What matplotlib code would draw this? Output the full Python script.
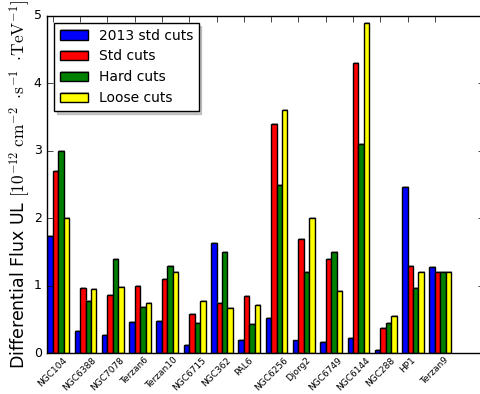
import matplotlib
matplotlib.use("Agg")
import matplotlib.pyplot as plt
import matplotlib.patheffects as pe
import numpy as np

plt.style.use('classic')

categories = ["NGC104", "NGC6388", "NGC7078", "Terzan6", "Terzan10", "NGC6715", "NGC362",
              "PAL6", "NGC6256", "Djorg2", "NGC6749", "NGC6144", "NGC288", "HP1", "Terzan9"]
ul_2013_std = [1.74, 0.33, 0.27, 0.46, 0.48, 0.12, 1.63, 0.20, 0.53, 0.19, 0.17, 0.23, 0.05, 2.47, 1.28]
ul_std = [2.70, 0.97, 0.87, 1.00, 1.10, 0.58, 0.75, 0.85, 3.40, 1.70, 1.40, 4.30, 0.38, 1.30, 1.20]
ul_hard = [3.00, 0.78, 1.40, 0.68, 1.30, 0.45, 1.50, 0.43, 2.50, 1.20, 1.50, 3.10, 0.45, 0.97, 1.20]
ul_loose = [2.00, 0.96, 0.99, 0.74, 1.20, 0.78, 0.67, 0.71, 3.60, 2.00, 0.93, 4.90, 0.55, 1.20, 1.20]

series = [("2013 std cuts", ul_2013_std, "blue"),
          ("Std cuts", ul_std, "red"),
          ("Hard cuts", ul_hard, "green"),
          ("Loose cuts", ul_loose, "yellow")]

fig = plt.figure(figsize=(4.8, 3.94), dpi=100, facecolor="white")
ax = fig.add_axes([47.3 / 480, (394 - 353.3) / 394, 436.7 / 480, (353.3 - 16) / 394])

width = 0.2
x = np.arange(len(categories))
shadow = [pe.SimplePatchShadow(offset=(0.7, 0.7), shadow_rgbFace="0.5", alpha=0.6), pe.Normal()]
for k, (label, vals, color) in enumerate(series):
    bars = ax.bar(x + k * width, vals, width, color=color, edgecolor="black",
                  linewidth=1.0, label=label, align="edge")
    for b in bars:
        b.set_path_effects(shadow)

ax.set_xlim(0, 16)
ax.set_ylim(0, 5)
ax.set_xticks(x + width)
ax.set_xticklabels(categories, rotation=45, fontsize=6.5, ha="center")
ax.tick_params(axis="x", pad=1.5)
ax.set_yticks([0, 1, 2, 3, 4, 5])
ax.tick_params(axis="y", labelsize=9)
ax.set_ylabel(r"Differential Flux UL $[10^{-12}\ \mathrm{cm}^{-2}\ \cdot\!\mathrm{s}^{-1}\ \cdot\!\mathrm{TeV}^{-1}]$",
              fontsize=12.5, labelpad=1)

leg = ax.legend(loc="upper left", fontsize=10, shadow={"color": "0.5", "alpha": 0.4}, handlelength=2.0)

fig.savefig("out.png", dpi=100, facecolor="white")
